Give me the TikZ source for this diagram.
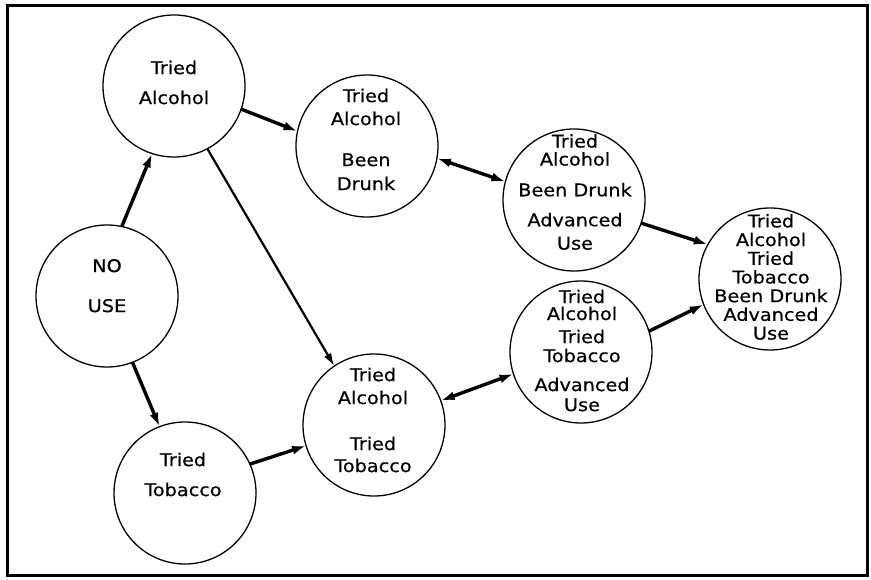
\documentclass[tikz,border=0pt]{standalone}
\usepackage{fontspec}
\usetikzlibrary{arrows.meta}
\newfontfamily\statefont[FakeStretch=1.1,FakeBold=0.6]{DejaVu Sans}
\begin{document}
\begin{tikzpicture}[x=1pt,y=-1pt,
  state/.style={circle, draw, line width=1.3pt, minimum size=142pt, inner sep=0pt, outer sep=0pt},
  lbl/.style={font=\statefont\fontsize{17.5}{18}\selectfont, align=center, inner sep=0pt, anchor=south},
  flow/.style={line width=3.4pt, -{Latex[length=14pt,width=9pt]}},
  thinflow/.style={line width=2.2pt, -{Latex[length=13pt,width=8pt]}},
  both/.style={line width=3.4pt, {Latex[length=14pt,width=9pt]}-{Latex[length=14pt,width=9pt]}}]
\useasboundingbox (0,0) rectangle (871,580);
\draw[line width=3pt] (7,6) rectangle (867,575);

% states
\node[state] (nu) at (107,296) {};
\node[state] (ta) at (174,86) {};
\node[state] (tt) at (185,493) {};
\node[state] (bd) at (367,146) {};
\node[state] (at) at (374,425) {};
\node[state] (adv) at (574,200) {};
\node[state] (atadv) at (581,352) {};
\node[state] (all) at (770,279) {};

% state labels
\node[lbl] (nul) at (107,312.5) {NO\\[22pt]USE};
\node[lbl] (tal) at (174,104.5) {Tried\\[12pt]Alcohol};
\node[lbl] (ttl) at (183,496.5) {Tried\\[12pt]Tobacco};
\node[lbl] (bdl) at (366,190.5) {Tried\\[5pt]Alcohol\\[23pt]Been\\[6pt]Drunk};
\node[lbl] (atl) at (373,472.5) {Tried\\[5pt]Alcohol\\[28pt]Tried\\[4pt]Tobacco};
\node[lbl] (advl) at (575,250) {Tried\\Alcohol\\[12.7pt]Been Drunk\\[12pt]Advanced\\[5.3pt]Use};
\node[lbl] (atadvl) at (582,411.5) {Tried\\[-1pt]Alcohol\\[5pt]Tried\\[1pt]Tobacco\\[11pt]Advanced\\[2pt]Use};
\node[lbl] (alll) at (771,340) {Tried\\[0.7pt]Alcohol\\[0.7pt]Tried\\[0.7pt]Tobacco\\[0.7pt]Been Drunk\\[0.7pt]Advanced\\[0.7pt]Use};

% transitions
\draw[flow] (nu.78) -- (ta.252);
\draw[flow] (nu.291) -- (tt.111);
\draw[flow] (ta.341) -- (bd.168);
\draw[thinflow] (ta.298) -- (at.124.5);
\draw[flow] (tt.24) -- (at.197);
\draw[both] (bd.350) -- (adv.165);
\draw[both] (at.20) -- (atadv.198);
\draw[flow] (adv.341) -- (all.151);
\draw[flow] (atadv.17) -- (all.201);
\end{tikzpicture}
\end{document}
